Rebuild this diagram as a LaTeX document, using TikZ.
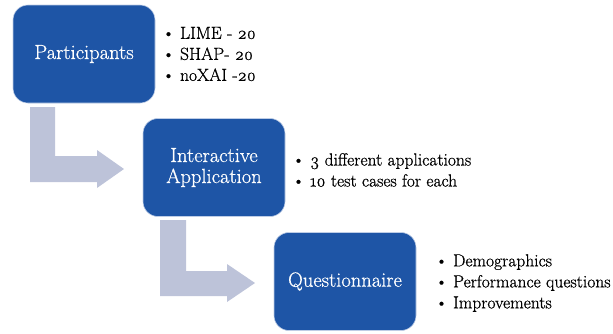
\documentclass[tikz,border=0pt]{standalone}
\usepackage{fontspec}
\newfontfamily\heavyrm{Latin Modern Roman}[FakeBold=0.8]
\newfontfamily\labelrm{Latin Modern Roman}[FakeBold=0.6]
\definecolor{boxblue}{RGB}{30,85,166}
\definecolor{arrowgray}{RGB}{189,195,217}
\definecolor{boxedge}{RGB}{190,205,230}
\tikzset{
  stagebox/.style={rectangle, rounded corners=15pt, fill=boxblue, draw=boxedge, line width=0.6pt,
    minimum width=142pt, minimum height=98pt, text=white, align=center,
    font=\labelrm\fontsize{20.5}{21}\selectfont, inner sep=0pt},
  itemlist/.style={anchor=west, align=left, inner sep=0pt, font=\heavyrm\fontsize{17.5}{21}\selectfont},
  bentarrow/.style={fill=arrowgray, draw=none}
}
\begin{document}
\begin{tikzpicture}[x=1pt,y=-1pt]
\useasboundingbox (0,0) rectangle (613,333);
% arrows
\fill[bentarrow] (30,107) -- (55,107) -- (55,156) -- (97,156) -- (97,150) -- (124,169) -- (97,188) -- (97,182) -- (30,182) -- cycle;
\fill[bentarrow] (160,220) -- (186,220) -- (186,271) -- (227,271) -- (227,264) -- (255,283) -- (227,302) -- (227,296) -- (160,296) -- cycle;
% boxes
\node[stagebox] (p) at (84,54) {Participants};
\node[stagebox] (a) at (214,167.5) {Interactive\\Application};
\node[stagebox] (q) at (345,281.5) {Questionnaire};
% lists
\node[itemlist] (pl) at (162,54) {\textbullet\ LIME - \oldstylenums{20}\\\textbullet\ SHAP- \oldstylenums{20}\\\textbullet\ noXAI -\oldstylenums{20}};
\node[itemlist] (al) at (292,170) {\textbullet\ \oldstylenums{3} different applications\\\textbullet\ \oldstylenums{10} test cases for each};
\node[itemlist] (ql) at (435,283) {\textbullet\ Demographics\\\textbullet\ Performance questions\\\textbullet\ Improvements};
\end{tikzpicture}
\end{document}
